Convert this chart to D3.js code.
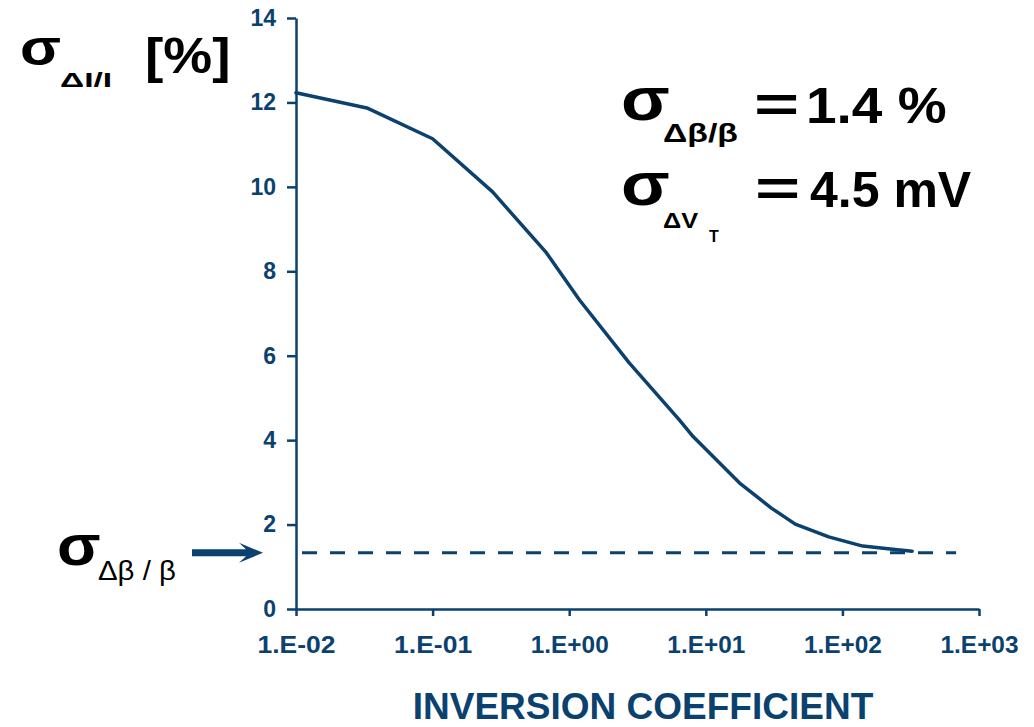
<!DOCTYPE html>
<html>
<head>
    <title>Inversion coefficient mismatch</title>
    <script src="https://d3js.org/d3.v7.min.js"></script>
    <style>
        body { margin:0; background:#fff; }
        text { font-family: Arial, "Liberation Sans", sans-serif; }
        .axis path, .axis line { stroke:#0b416f; stroke-width:2.5px; }
        .axis text { fill:#0b416f; font-weight:bold; }
        .curve { fill:none; stroke:#0b416f; stroke-width:3.5px; stroke-linejoin:round; stroke-linecap:round; }
        .dash { fill:none; stroke:#0b416f; stroke-width:3px; stroke-dasharray:15 13; stroke-dashoffset:22; }
    </style>
</head>
<body>
    <script>
    var ic = [0.01, 0.033, 0.1, 0.275, 0.68, 1.19, 2.75, 6.4, 8.1, 17.6, 30.2, 45.2, 79.4, 141, 224, 324];
    var sigma = [12.23, 11.87, 11.14, 9.88, 8.44, 7.32, 5.83, 4.48, 4.08, 2.99, 2.39, 2.01, 1.71, 1.49, 1.42, 1.37];
    var betaLevel = 1.33;
    var betaRange = [0.01, 680];
    var xTicks = [0.01, 0.1, 1, 10, 100, 1000];
    var yTicks = [0, 2, 4, 6, 8, 10, 12, 14];

    var svg = d3.select("body").append("svg")
                .attr("width", 1034).attr("height", 727);

    var x = d3.scaleLog().domain([0.01, 1000]).range([296, 979]);
    var y = d3.scaleLinear().domain([0, 14]).range([609, 18]);

    function fmt(d) {
        var e = Math.round(Math.log10(d));
        return "1.E" + (e < 0 ? "-" : "+") + (Math.abs(e) < 10 ? "0" : "") + Math.abs(e);
    }

    var xAxis = svg.append("g").attr("class", "axis")
        .attr("transform", "translate(0,609)")
        .call(d3.axisBottom(x).tickValues(xTicks).tickFormat(fmt).tickSizeInner(7).tickSizeOuter(0).tickPadding(21));
    xAxis.selectAll("text").style("font-size", "23px")
        .attr("textLength", 78).attr("lengthAdjust", "spacingAndGlyphs");

    var yAxis = svg.append("g").attr("class", "axis")
        .attr("transform", "translate(296,0)")
        .call(d3.axisLeft(y).tickValues(yTicks).tickSizeInner(9).tickSizeOuter(0).tickPadding(11));
    yAxis.selectAll("text").style("font-size", "23px");

    // dashed level of sigma beta
    svg.append("path").attr("class", "dash")
        .attr("d", d3.line()([[x(betaRange[0]), y(betaLevel)], [x(betaRange[1]), y(betaLevel)]]));

    var pts = ic.map(function(d, i) { return [x(d), y(sigma[i])]; });
    svg.append("path").attr("class", "curve")
        .attr("d", d3.line()(pts));

    // arrow pointing at the dashed level
    var ay = y(betaLevel);
    svg.append("path")
        .attr("d", "M192," + (ay - 3.5) + " L246," + (ay - 3.5) + " L239," + (ay - 10) + " L263," + ay +
              " L239," + (ay + 10) + " L246," + (ay + 3.5) + " L192," + (ay + 3.5) + " Z")
        .attr("fill", "#0b416f");

    // text stretched sideways like the original slide
    function label(tx, px, py, size, sx, bold) {
        svg.append("g").attr("transform", "translate(" + px + "," + py + ") scale(" + (sx || 1) + ",1)")
            .append("text").style("font-size", size + "px")
            .style("font-weight", bold === false ? "normal" : "bold")
            .attr("fill", "#000").text(tx);
    }

    // y label
    label("σ", 20, 65, 50, 1.2);
    label("ΔI/I", 60, 87, 21, 1.6);
    label("[%]", 145, 73, 50, 1.1);

    // annotations
    label("σ", 621, 120, 62, 1.15);
    label("Δβ/β", 663, 142, 26, 1.3);
    label("=", 754, 122, 50, 1.55);
    label("1.4 %", 806, 123, 50, 1.1);

    label("σ", 621, 205, 62, 1.15);
    label("ΔV", 663, 228, 22, 1.15);
    label("T", 709, 242, 16);
    label("=", 755, 206, 50, 1.55);
    label("4.5 mV", 810, 207, 50, 1.0);

    label("σ", 57, 565, 58, 1.1);
    label("Δβ / β", 98, 580, 28, 1.05, false);

    svg.append("text").attr("x", 643).attr("y", 719).attr("text-anchor", "middle")
        .style("font-size", "37px").style("font-weight", "bold").attr("fill", "#0b416f")
        .text("INVERSION COEFFICIENT");
    </script>
</body>
</html>
